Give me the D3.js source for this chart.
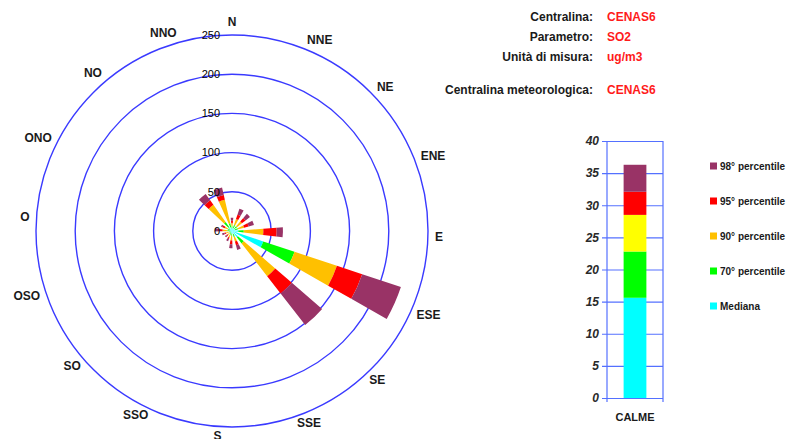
<!DOCTYPE html>
<html>
<head>
<meta charset="utf-8">
<script src="https://cdn.jsdelivr.net/npm/d3@7"></script>
<style>
body { margin: 0; background: #fff; }
svg { font-family: 'Liberation Sans', Arial, sans-serif; }
</style>
</head>
<body>
<svg id="chart" width="791" height="439"></svg>
<script>
// dati
const directions = ['N', 'NNE', 'NE', 'ENE', 'E', 'ESE', 'SE', 'SSE', 'S', 'SSO', 'SO', 'OSO', 'O', 'ONO', 'NO', 'NNO']
const mediana = [3, 4, 4, 4, 8, 42, 10, 4, 3, 3, 2, 2, 3, 3, 6, 5]
const perc70 = [6, 8, 8, 8, 15, 84, 20, 8, 6, 5, 4, 4, 6, 6, 14, 10]
const perc90 = [10, 16, 16, 16, 40, 141, 73, 14, 12, 9, 7, 8, 12, 10, 41, 41]
const perc95 = [13, 22, 22, 22, 57, 175, 101, 19, 17, 11, 9, 10, 16, 13, 48, 47]
const perc98 = [17, 30, 29, 29, 65, 227, 152, 25, 22, 14, 11, 13, 22, 15, 58, 57]
const ringTicks = [0, 50, 100, 150, 200, 250]

const calmeCategory = ['CALME']
const calme = [15.6, 22.8, 28.5, 32.1, 36.3]
const barTicks = [0, 5, 10, 15, 20, 25, 30, 35, 40]

const legendLabels = ['98° percentile', '95° percentile', '90° percentile', '70° percentile', 'Mediana']
const infoLabels = ['Centralina:', 'Parametro:', 'Unità di misura:', 'Centralina meteorologica:']
const infoValues = ['CENAS6', 'SO2', 'ug/m3', 'CENAS6']

const svg = d3.select('#chart')
const ringColor = '#3a3aff'
const gridColor = '#5470ff'
const textColor = '#1a1a1a'
const roseColors = ['#00ffff', '#00ff00', '#ffc000', '#ff0000', '#993366']
const barColors = ['#00ffff', '#00ff00', '#ffff00', '#ff0000', '#993366']

// ---------------- rosa dei venti ----------------
const cx = 232
const cy = 231
const rScale = d3.scaleLinear().domain([0, 250]).range([0, 196])
const step = 360 / directions.length
// piccola rotazione come nell'originale
const shift = a => a === 0 ? 0 : (a >= 180 ? 4 : 1.5)
const rad = a => a * Math.PI / 180

const rose = svg.append('g').attr('transform', `translate(${cx}, ${cy})`)

rose.selectAll('circle.ring')
	.data(ringTicks.filter(d => d > 0))
	.enter()
	.append('circle')
	.attr('class', 'ring')
	.attr('r', d => rScale(d))
	.attr('fill', 'none')
	.attr('stroke', ringColor)
	.attr('stroke-width', 1.4)

const levels = [mediana, perc70, perc90, perc95, perc98]
const arc = d3.arc()
const wedges = []
directions.forEach((dir, i) => {
	const a = i * step + shift(i * step)
	levels.forEach((lv, k) => {
		wedges.push({
			innerRadius: rScale(k === 0 ? 0 : levels[k - 1][i]),
			outerRadius: rScale(lv[i]),
			startAngle: rad(a - step / 4),
			endAngle: rad(a + step / 4),
			color: roseColors[k]
		})
	})
})

rose.selectAll('path.wedge')
	.data(wedges)
	.enter()
	.append('path')
	.attr('class', 'wedge')
	.attr('d', d => arc(d))
	.attr('fill', d => d.color)

rose.selectAll('text.ringlabel')
	.data(ringTicks)
	.enter()
	.append('text')
	.attr('class', 'ringlabel')
	.attr('x', -12)
	.attr('y', d => -rScale(d))
	.attr('dy', '0.35em')
	.attr('text-anchor', 'end')
	.style('font-size', '11px')
	.style('fill', '#000')
	.text(d => d)

// etichette delle direzioni
const labelR = 203
rose.selectAll('text.dir')
	.data(directions)
	.enter()
	.append('text')
	.attr('class', 'dir')
	.attr('text-anchor', 'middle')
	.attr('dy', '0.35em')
	.style('font-size', '12px')
	.style('font-weight', 'bold')
	.style('fill', textColor)
	.text(d => d)
	.each(function (d, i) {
		const a = rad(i * step + shift(i * step))
		const w = this.getComputedTextLength()
		const c = Math.cos(a)
		const x = labelR * Math.sin(a) + Math.sin(a) * w / 2
		const y = -labelR * c - c * (c > 0 ? 6 : 2)
		d3.select(this).attr('x', x).attr('y', y)
	})

// ---------------- informazioni ----------------
const infoY = i => 17 + i * 20 + (i === 3 ? 13 : 0)
svg.selectAll('text.infolabel')
	.data(infoLabels)
	.enter()
	.append('text')
	.attr('class', 'infolabel')
	.attr('x', 593)
	.attr('y', (d, i) => infoY(i))
	.attr('dy', '0.35em')
	.attr('text-anchor', 'end')
	.style('font-size', '12px')
	.style('font-weight', 'bold')
	.style('fill', textColor)
	.text(d => d)

svg.selectAll('text.infovalue')
	.data(infoValues)
	.enter()
	.append('text')
	.attr('class', 'infovalue')
	.attr('x', 607)
	.attr('y', (d, i) => infoY(i))
	.attr('dy', '0.35em')
	.style('font-size', '12px')
	.style('font-weight', 'bold')
	.style('fill', '#ff1a1a')
	.text(d => d)

// ---------------- istogramma calme ----------------
const left = 607
const right = 663
const yScale = d3.scaleLinear().domain([0, 40]).range([398, 141])
const xScale = d3.scaleBand().domain(calmeCategory).range([left, right]).paddingInner(0).paddingOuter(0.73)

const yAxis = d3.axisLeft(yScale)
	.tickValues(barTicks)
	.tickSize(-(right - left))
	.tickSizeOuter(0)
	.tickPadding(8)

const yG = svg.append('g')
	.attr('transform', `translate(${left}, 0)`)
	.call(yAxis)

yG.select('path.domain').remove()
yG.selectAll('.tick line')
	.attr('x1', -5)
	.style('stroke', gridColor)
	.style('stroke-width', 1.2)
yG.selectAll('.tick text')
	.style('font-size', '12px')
	.style('font-style', 'italic')
	.style('font-weight', 'bold')
	.style('font-family', "'Liberation Sans', Arial, sans-serif")
	.style('fill', '#2a2a2a')

// cornice
svg.append('line')
	.attr('x1', left).attr('x2', left)
	.attr('y1', yScale(40)).attr('y2', yScale(0) + 4)
	.style('stroke', gridColor).style('stroke-width', 1.2)
svg.append('line')
	.attr('x1', right).attr('x2', right)
	.attr('y1', yScale(40)).attr('y2', yScale(0) + 4)
	.style('stroke', gridColor).style('stroke-width', 1.2)

const stack = calme.map((v, k) => ({ y0: k === 0 ? 0 : calme[k - 1], y1: v, color: barColors[k] }))
svg.selectAll('rect.calme')
	.data(stack)
	.enter()
	.append('rect')
	.attr('class', 'calme')
	.attr('x', xScale('CALME'))
	.attr('width', xScale.bandwidth())
	.attr('y', d => yScale(d.y1))
	.attr('height', d => yScale(d.y0) - yScale(d.y1))
	.attr('fill', d => d.color)

svg.append('text')
	.attr('x', xScale('CALME') + xScale.bandwidth() / 2)
	.attr('y', 417)
	.attr('dy', '0.35em')
	.attr('text-anchor', 'middle')
	.style('font-size', '11px')
	.style('font-weight', 'bold')
	.style('fill', textColor)
	.text(calmeCategory[0])

// legenda
const legendColors = roseColors.slice().reverse()
const legend = svg.selectAll('g.legend')
	.data(legendLabels)
	.enter()
	.append('g')
	.attr('class', 'legend')
	.attr('transform', (d, i) => `translate(710, ${166 + i * 35})`)

legend.append('rect')
	.attr('x', 0)
	.attr('y', -3.5)
	.attr('width', 7)
	.attr('height', 7)
	.attr('fill', (d, i) => legendColors[i])

legend.append('text')
	.attr('x', 10)
	.attr('dy', '0.35em')
	.style('font-size', '10px')
	.style('font-weight', 'bold')
	.style('fill', textColor)
	.text(d => d)
</script>
</body>
</html>
